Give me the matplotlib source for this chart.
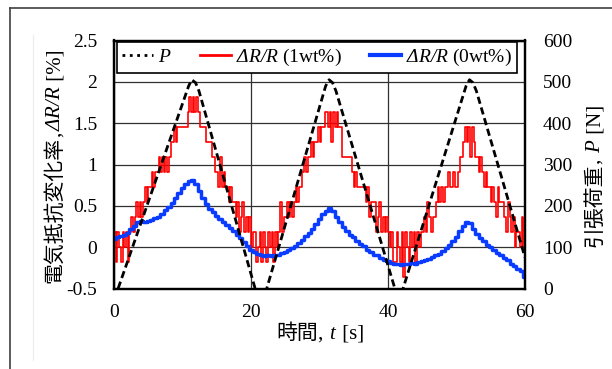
import numpy as np
import matplotlib
matplotlib.use("Agg")
import matplotlib.pyplot as plt
from matplotlib.lines import Line2D

plt.rcParams['font.family'] = ['Liberation Serif', 'Noto Sans CJK JP']
plt.rcParams['mathtext.fontset'] = 'custom'
# math symbols (the capital delta included) are set in italic serif
plt.rcParams['mathtext.rm'] = 'Liberation Serif:italic'
plt.rcParams['mathtext.it'] = 'Liberation Serif:italic'

# tensile load P [N], corner points of the loading cycles
p_time = [0.6, 10.9, 11.35, 11.9, 12.4, 20.6, 21.4, 22.3, 30.9, 31.4, 31.9, 32.4,
          41.0, 41.6, 42.2, 51.4, 51.9, 52.4, 52.9, 60.0]
p_load = [0, 490, 505, 498, 478, 0, -20, 0, 490, 505, 498, 478,
          0, -20, 0, 490, 505, 498, 478, 75]

# dR/R (1wt%) in counts of one resolution step, sampled every 0.25 s
step_1wt = 0.182
counts_1wt = [
    1, -1, 1, 0, -1, 1, 0, 1, -1, 1, 2, 1, 2, 3, 2, 3, 2, 3, 4, 3,
    4, 4, 5, 4, 5, 5, 6, 5, 6, 5, 6, 5, 6, 7, 7, 8, 7, 8, 8, 8,
    8, 8, 8, 9, 10, 9, 10, 9, 10, 9, 8, 8, 8, 8, 7, 7, 7, 6, 6, 5,
    5, 4, 6, 4, 5, 4, 4, 3, 4, 3, 3, 2, 3, 1, 2, 3, 1, 2, 1, 2,
    0, 1, 1, -1, 0, 1, -1, 1, 0, -1, 1, 0, 1, -1, 1, 0, 1, 3, 1, 2,
    2, 3, 2, 3, 2, 3, 4, 3, 4, 4, 5, 6, 5, 6, 6, 7, 6, 7, 7, 8,
    7, 8, 8, 9, 9, 8, 9, 7, 9, 8, 9, 8, 8, 6, 6, 6, 6, 6, 6, 5,
    4, 5, 4, 4, 4, 4, 4, 3, 4, 2, 3, 3, 3, 1, 2, 3, 1, 2, 1, 2,
    1, 0, 1, -1, -1, 1, 0, -1, 1, -2, 1, 0, -1, 1, 0, 1, -1, 1, 0, 1,
    1, 2, 1, 3, 2, 1, 2, 2, 3, 4, 3, 4, 3, 4, 4, 5, 4, 4, 5, 4,
    4, 5, 6, 6, 7, 8, 7, 8, 6, 8, 7, 6, 6, 5, 6, 5, 4, 5, 4, 4,
    3, 4, 3, 2, 4, 3, 3, 3, 2, 1, 3, 2, 1, 2, 0, 1, 1, 0, 2, 0,
]

# dR/R (0wt%) [%], sampled every 0.5 s
rate_0wt = [
    0.10, 0.12, 0.13, 0.15, 0.17, 0.22, 0.26, 0.30, 0.32, 0.30,
    0.32, 0.33, 0.35, 0.37, 0.40, 0.45, 0.49, 0.53, 0.60, 0.66,
    0.72, 0.76, 0.80, 0.81, 0.76, 0.68, 0.59, 0.52, 0.46, 0.42,
    0.38, 0.34, 0.30, 0.27, 0.23, 0.20, 0.15, 0.11, 0.06, 0.02,
    -0.03, -0.06, -0.08, -0.10, -0.11, -0.10, -0.11, -0.09, -0.10, -0.07,
    -0.06, -0.04, -0.01, 0.02, 0.05, 0.09, 0.13, 0.17, 0.22, 0.28,
    0.34, 0.40, 0.44, 0.47, 0.44, 0.37, 0.30, 0.25, 0.20, 0.15,
    0.12, 0.08, 0.04, 0.01, -0.03, -0.06, -0.09, -0.10, -0.13, -0.15,
    -0.17, -0.19, -0.20, -0.20, -0.21, -0.20, -0.20, -0.19, -0.20, -0.18,
    -0.17, -0.16, -0.14, -0.12, -0.10, -0.08, -0.05, -0.01, 0.03, 0.07,
    0.12, 0.20, 0.26, 0.31, 0.29, 0.22, 0.16, 0.11, 0.07, 0.03,
    0.00, -0.04, -0.07, -0.10, -0.13, -0.16, -0.20, -0.23, -0.26, -0.29,
    -0.36,
]

t_1wt = np.arange(len(counts_1wt)) * 0.25
t_0wt = np.arange(len(rate_0wt)) * 0.5
rate_1wt = np.array(counts_1wt) * step_1wt

W, H = 612, 369
fig = plt.figure(figsize=(W / 100, H / 100), dpi=100)
ax = fig.add_axes([114 / W, 1 - 288.5 / H, 411 / W, 248 / H])
ax2 = ax.twinx()

ax.plot(t_1wt, rate_1wt, color='#ff0000', lw=1.2, drawstyle='steps-post', zorder=2)
ax.plot(t_0wt, rate_0wt, color='#0a3cff', lw=2.5, drawstyle='steps-mid', zorder=3)
ax2.plot(p_time, p_load, color='black', lw=2.0, dashes=(2.6, 1.4))

ax.set_xlim(0, 60)
ax.set_ylim(-0.5, 2.5)
ax.set_xticks([0, 20, 40, 60])
ax.set_yticks(np.arange(-0.5, 2.51, 0.5))
ax.set_yticklabels(['-0.5', '0', '0.5', '1', '1.5', '2', '2.5'])
ax2.set_ylim(0, 600)
ax2.set_yticks(range(0, 601, 100))
ax.grid(True, color='#303030', lw=0.9)
ax.set_axisbelow(True)
ax.tick_params(length=0, labelsize=14, pad=12)
ax.tick_params(axis='x', pad=11)
ax2.tick_params(length=0, labelsize=14, pad=13)
for a in (ax, ax2):
    for s in a.spines.values():
        s.set_linewidth(1.6)

handles = [
    Line2D([], [], color='black', lw=2.0, ls=':'),
    Line2D([], [], color='#ff0000', lw=2.0),
    Line2D([], [], color='#0a3cff', lw=3.0),
]
names = ['$P$', '$ΔR/R$ (1wt%)', '$ΔR/R$ (0wt%)']
leg = ax2.legend(handles, names, ncol=3, mode='expand', fontsize=14,
                 bbox_to_anchor=(3 / 411, 0.869, 400 / 411, 0.113),
                 loc='lower left', borderaxespad=0, handlelength=1.6,
                 handletextpad=0.25, borderpad=0.25, columnspacing=1.0,
                 fancybox=False, framealpha=1)
leg.get_frame().set_edgecolor('black')
leg.get_frame().set_linewidth(1.2)


def chain_text(pieces, x, y, rot, size):
    # lay text pieces end to end along one baseline, centred on (x, y) pixels
    r = fig.canvas.get_renderer()
    arts = [fig.text(0, 0, s, family=fam, size=size, rotation=rot,
                     rotation_mode='anchor', ha='left', va='baseline')
            for s, fam in pieces]
    lens = []
    for t in arts:
        bb = t.get_window_extent(r)
        lens.append(bb.height if rot else bb.width)
    pos = -sum(lens) / 2
    for t, n in zip(arts, lens):
        if rot:
            t.set_position((x / W, (H - y + pos) / H))
        else:
            t.set_position(((x + pos) / W, (H - y) / H))
        pos += n


serif = 'Liberation Serif'
cjk = 'Noto Sans CJK JP'
chain_text([('電気抵抗変化率', cjk), (',', serif), ('$ΔR/R$', serif),
            (' [%]', serif)], 60, 166, 90, 15)
chain_text([('引張荷重', cjk), (', ', serif), ('$P$', serif), (' [N]', serif)],
           600, 176, 90, 15)
chain_text([('時間', cjk), (', ', serif), ('$t$', serif), (' [s]', serif)],
           320, 339, 0, 15)

# page frame around the figure
fig.add_artist(Line2D([10 / W, 10 / W], [0, 1 - 8 / H], color='#404040', lw=1.2))
fig.add_artist(Line2D([10 / W, 1], [1 - 8 / H, 1 - 8 / H], color='#404040', lw=1.2))
fig.add_artist(Line2D([33 / W, 33 / W], [1 - 360 / H, 1 - 35 / H], color='#ececec', lw=0.8))

fig.savefig('out.png', dpi=100)
